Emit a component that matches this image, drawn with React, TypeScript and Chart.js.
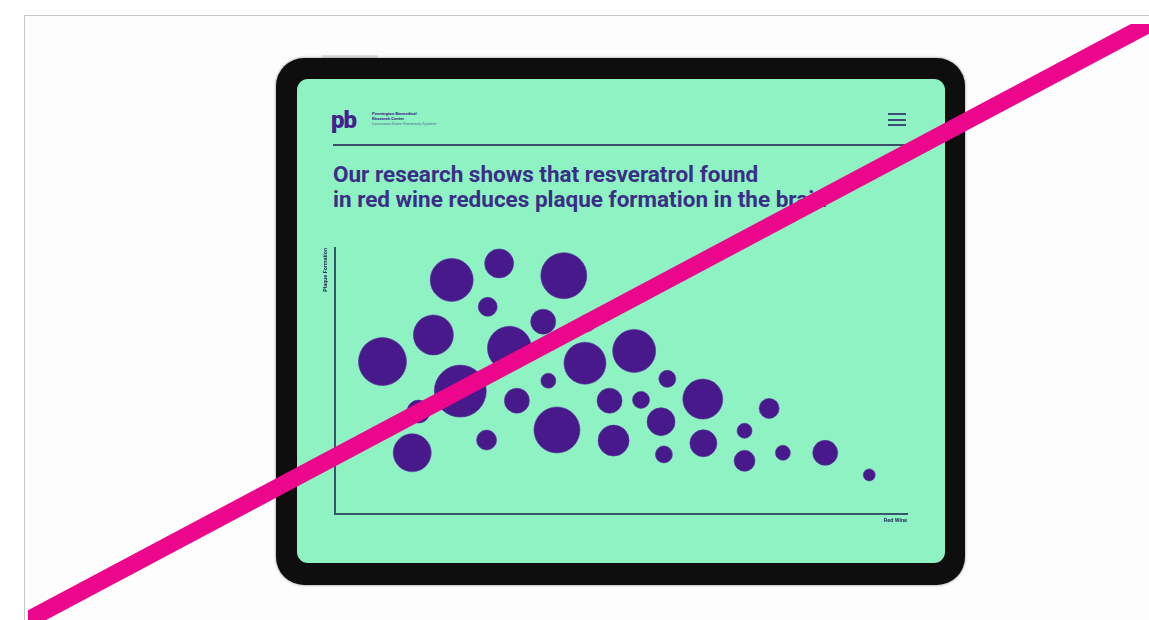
import React, { useEffect, useRef } from "react";
import { Chart, registerables } from "chart.js";

Chart.register(...registerables);

// ---- Data ----
const redWineIndex = [20.4, 28.7, 40.0, 26.7, 36.4, 17.2, 8.3, 30.5, 44.0, 43.7, 37.3, 21.9, 14.6, 31.8, 48.0, 38.8, 26.5, 13.5, 48.7, 52.3, 58.1, 53.5, 64.3, 57.0, 75.9, 71.6, 64.4, 57.5, 71.6, 78.3, 85.7, 93.4];
const plaqueIndex = [88.0, 94.2, 89.6, 77.9, 72.3, 67.3, 57.3, 62.3, 71.7, 56.7, 50.1, 46.2, 38.5, 42.6, 42.6, 31.6, 27.8, 23.0, 27.6, 61.3, 50.8, 42.9, 43.2, 34.7, 39.7, 31.3, 26.6, 22.4, 20.0, 23.0, 23.0, 14.7];
const bubbleRadius = [21.5, 14.5, 23, 9.5, 12.5, 20, 24, 22, 8.5, 21, 7.5, 26, 11.5, 12.5, 12.5, 23, 10, 19, 15.5, 21.5, 8.5, 8.5, 20, 14, 10, 7.5, 13.5, 8.5, 10.5, 7.5, 12.5, 6];
const xAxisLabel = "Red Wine";
const yAxisLabel = "Plaque Formation";
const titleLines = ["Our research shows that resveratrol found", "in red wine reduces plaque formation in the brain"];
const logoLines = ["Pennington Biomedical", "Research Center", "Louisiana State University System"];
// strike-through line, normalised overlay space (bottom-left to top-right)
const strikeX = [0, 1];
const strikeY = [0, 1];

// ---- Styles ----
const GREEN = "#8ff2c3";
const BUBBLE = "#48198b";
const AXIS = "#35566a";
const INK = "#3a2e86";
const PINK = "#ec068c";
const FONT = "Roboto, 'Liberation Sans', sans-serif";

function BubbleChart() {
  const ref = useRef<HTMLCanvasElement>(null);
  useEffect(() => {
    const chart = new Chart(ref.current as HTMLCanvasElement, {
      type: "bubble",
      data: {
        datasets: [
          {
            data: redWineIndex.map((x, i) => ({ x, y: plaqueIndex[i], r: bubbleRadius[i] })),
            backgroundColor: BUBBLE,
            borderColor: "rgba(90,50,160,0.6)",
            borderWidth: 1,
            clip: false,
          } as any,
        ],
      },
      options: {
        responsive: true,
        maintainAspectRatio: false,
        animation: false,
        events: [],
        layout: { autoPadding: false, padding: { left: 21, right: 13, top: 12, bottom: 8 } },
        plugins: { legend: { display: false }, tooltip: { enabled: false } },
        scales: {
          x: {
            type: "linear",
            position: "bottom",
            min: 0,
            max: 100,
            grid: { display: false, drawTicks: false },
            ticks: { display: false },
            border: { display: true, color: AXIS, width: 2 },
            title: {
              display: true,
              text: xAxisLabel,
              align: "end",
              color: "#2c3160",
              font: { family: FONT, size: 5.5, weight: "bold" },
              padding: { top: 0, bottom: 4 },
            },
            afterFit: (s: any) => {
              s.height = 14;
            },
          },
          y: {
            type: "linear",
            position: "left",
            min: 0,
            max: 100,
            grid: { display: false, drawTicks: false },
            ticks: { display: false },
            border: { display: true, color: AXIS, width: 2 },
            title: {
              display: true,
              text: yAxisLabel,
              align: "end",
              color: "#2c3160",
              font: { family: FONT, size: 5.5, weight: "bold" },
              padding: { top: 1, bottom: 0 },
            },
            afterFit: (s: any) => {
              s.width = 14;
            },
          },
        },
      } as any,
    });
    return () => chart.destroy();
  }, []);
  return (
    <div style={{ position: "absolute", left: 300, top: 236, width: 620, height: 300 }}>
      <canvas ref={ref} />
    </div>
  );
}

function StrikeLine() {
  const ref = useRef<HTMLCanvasElement>(null);
  useEffect(() => {
    const chart = new Chart(ref.current as HTMLCanvasElement, {
      type: "line",
      data: {
        datasets: [
          {
            data: strikeX.map((x, i) => ({ x, y: strikeY[i] })),
            borderColor: PINK,
            borderWidth: 17,
            borderCapStyle: "square",
            pointRadius: 0,
            clip: false,
          } as any,
        ],
      },
      options: {
        responsive: true,
        maintainAspectRatio: false,
        animation: false,
        events: [],
        layout: { padding: 0 },
        plugins: { legend: { display: false }, tooltip: { enabled: false } },
        scales: {
          x: { type: "linear", min: 0, max: 1, display: false },
          y: { type: "linear", min: 0, max: 1, display: false },
        },
      } as any,
    });
    return () => chart.destroy();
  }, []);
  return (
    <div style={{ position: "absolute", left: 28, top: 24, width: 1121, height: 596, zIndex: 20, pointerEvents: "none" }}>
      <canvas ref={ref} />
    </div>
  );
}

export default function App() {
  return (
    <div
      style={{
        position: "fixed",
        left: 0,
        top: 0,
        width: 1149,
        height: 620,
        overflow: "hidden",
        background: "#ffffff",
        fontFamily: FONT,
      }}
    >
      {/* outer frame */}
      <div
        style={{
          position: "absolute",
          left: 24,
          top: 15,
          width: 1200,
          height: 700,
          border: "1px solid #c6c6c6",
          background: "#fdfdfd",
        }}
      />
      {/* device side buttons */}
      <div style={{ position: "absolute", left: 322, top: 55, width: 56, height: 3, background: "#e2e2e2", borderRadius: 1 }} />
      {/* device body */}
      <div
        style={{
          position: "absolute",
          left: 276,
          top: 58,
          width: 689,
          height: 527,
          background: "#0e0e0e",
          borderRadius: 28,
          boxShadow: "0 0 3px rgba(0,0,0,0.45)",
        }}
      />
      {/* screen */}
      <div
        style={{
          position: "absolute",
          left: 297,
          top: 79,
          width: 648,
          height: 484,
          background: GREEN,
          borderRadius: 11,
          overflow: "hidden",
        }}
      >
        {/* logo */}
        <div
          style={{
            position: "absolute",
            left: 34,
            top: 107.5 - 79,
            fontSize: 24,
            lineHeight: 1,
            fontWeight: 900,
            letterSpacing: -1,
            color: "#44208f",
          }}
        >
          pb
        </div>
        <div style={{ position: "absolute", left: 372 - 297, top: 112 - 79, color: "#3a2e86", lineHeight: "4.8px" }}>
          {logoLines.map((t, i) => (
            <div key={i} style={{ fontSize: 4.3, fontWeight: i === 2 ? 400 : 700, whiteSpace: "nowrap", opacity: i === 2 ? 0.7 : 1 }}>
              {t}
            </div>
          ))}
        </div>
        {/* hamburger */}
        {[113, 118.5, 124].map((y, i) => (
          <div key={i} style={{ position: "absolute", left: 888 - 297, top: y - 79, width: 18, height: 2, background: "#3b5070" }} />
        ))}
        {/* header rule */}
        <div style={{ position: "absolute", left: 333 - 297, top: 144 - 79, width: 573, height: 2, background: "#3b4d6b" }} />
        {/* headline */}
        <div
          style={{
            position: "absolute",
            left: 333 - 297,
            top: 162 - 79,
            fontSize: 22.5,
            lineHeight: "25px",
            fontWeight: 700,
            letterSpacing: 0,
            color: INK,
            whiteSpace: "nowrap",
          }}
        >
          {titleLines.map((t, i) => (
            <div key={i}>{t}</div>
          ))}
        </div>
      </div>
      <BubbleChart />
      <StrikeLine />
    </div>
  );
}
